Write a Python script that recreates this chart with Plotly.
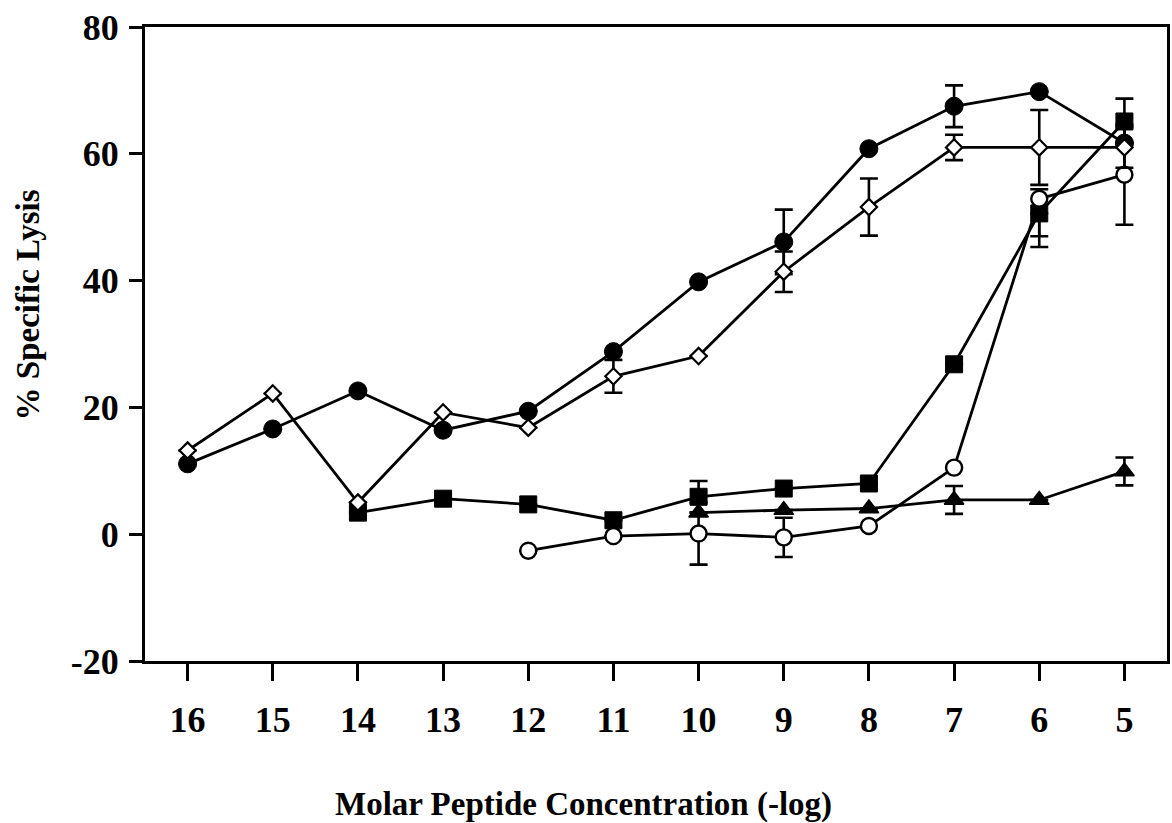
import plotly.graph_objects as go

# -log molar peptide concentration for each series
x_filled_circle = [16, 15, 14, 13, 12, 11, 10, 9, 8, 7, 6, 5]
y_filled_circle = [11.1, 16.6, 22.6, 16.4, 19.4, 28.8, 39.8, 46.1, 60.8, 67.5, 69.8, 61.7]
e_filled_circle = [0, 0, 0, 0, 0, 0, 0, 5.1, 0, 3.3, 0, 0]

x_open_diamond = [16, 15, 14, 13, 12, 11, 10, 9, 8, 7, 6, 5]
y_open_diamond = [13.2, 22.2, 5.0, 19.2, 16.8, 24.9, 28.1, 41.4, 51.6, 61.0, 61.0, 61.0]
e_open_diamond = [0, 0, 0, 0, 0, 2.6, 0, 3.2, 4.5, 2.0, 5.9, 3.2]

x_filled_square = [14, 13, 12, 11, 10, 9, 8, 7, 6, 5]
y_filled_square = [3.4, 5.6, 4.7, 2.2, 5.9, 7.2, 8.0, 26.8, 50.6, 65.1]
e_sq_plus = [0, 0, 0, 0, 2.5, 0, 0, 0, 0, 3.6]
e_sq_minus = [0, 0, 0, 0, 2.5, 0, 0, 0, 5.3, 3.6]

x_open_circle = [12, 11, 10, 9, 8, 7, 6, 5]
y_open_circle = [-2.6, -0.3, 0.1, -0.5, 1.3, 10.5, 52.9, 56.7]
e_oc_plus = [0, 0, 4.9, 3.1, 0, 0, 1.5, 7.9]
e_oc_minus = [0, 0, 4.9, 3.1, 0, 0, 5.9, 7.9]

x_triangle = [10, 9, 8, 7, 6, 5]
y_triangle = [3.4, 3.8, 4.05, 5.4, 5.4, 9.9]
e_triangle = [0, 0, 0, 2.2, 0, 2.2]

x_ticks = [16, 15, 14, 13, 12, 11, 10, 9, 8, 7, 6, 5]
y_ticks = [-20, 0, 20, 40, 60, 80]

FONT = "Liberation Serif"
LINE = dict(color="black", width=2.8)


def err(plus, minus=None):
    d = dict(type="data", array=plus, visible=True, color="black",
             thickness=2.6, width=9)
    if minus is not None:
        d["symmetric"] = False
        d["arrayminus"] = minus
    return d


fig = go.Figure()

fig.add_trace(go.Scatter(
    x=x_filled_square, y=y_filled_square, mode="lines+markers", line=LINE,
    error_y=err(e_sq_plus, e_sq_minus),
    marker=dict(symbol="square", size=17, color="black",
                line=dict(color="black", width=1))))

fig.add_trace(go.Scatter(
    x=x_triangle, y=y_triangle, mode="lines+markers", line=LINE,
    error_y=err(e_triangle),
    marker=dict(symbol="triangle-up", size=17, color="black",
                line=dict(color="black", width=1.5))))

fig.add_trace(go.Scatter(
    x=x_filled_circle, y=y_filled_circle, mode="lines+markers", line=LINE,
    error_y=err(e_filled_circle),
    marker=dict(symbol="circle", size=18, color="black",
                line=dict(color="black", width=1))))

fig.add_trace(go.Scatter(
    x=x_open_circle, y=y_open_circle, mode="lines+markers", line=LINE,
    error_y=err(e_oc_plus, e_oc_minus),
    marker=dict(symbol="circle", size=16, color="white",
                line=dict(color="black", width=2.4))))

fig.add_trace(go.Scatter(
    x=x_open_diamond, y=y_open_diamond, mode="lines+markers", line=LINE,
    error_y=err(e_open_diamond),
    marker=dict(symbol="diamond", size=12.5, color="white",
                line=dict(color="black", width=2.2))))

fig.update_layout(
    width=1172, height=823,
    margin=dict(l=145, r=2, t=27, b=162),
    paper_bgcolor="white", plot_bgcolor="white",
    showlegend=False,
    font=dict(family=FONT, color="black"),
)

fig.update_xaxes(
    range=[16.5, 4.5], tickmode="array", tickvals=x_ticks,
    ticktext=[f"<b>{v}</b>" for v in x_ticks],
    ticks="outside", ticklen=17, tickwidth=3, tickcolor="black",
    showline=True, linewidth=3, linecolor="black", mirror=True,
    showgrid=False, zeroline=False,
    tickfont=dict(family=FONT, size=36, color="black"),
    ticklabelstandoff=8,
)
fig.update_yaxes(
    range=[-20, 80], tickmode="array", tickvals=y_ticks,
    ticktext=[f"<b>{v}</b>" for v in y_ticks],
    ticks="outside", ticklen=13, tickwidth=3, tickcolor="black",
    showline=True, linewidth=3, linecolor="black", mirror=True,
    showgrid=False, zeroline=False,
    tickfont=dict(family=FONT, size=36, color="black"),
    ticklabelstandoff=3,
)

fig.add_annotation(
    text="<b>Molar Peptide Concentration (-log)</b>",
    xref="paper", yref="paper", x=(585 - 145) / 1025, y=-(805 - 661.5) / 635,
    showarrow=False, xanchor="center", yanchor="middle",
    font=dict(family=FONT, size=33, color="black"))

fig.add_annotation(
    text="<b>% Specific Lysis</b>", textangle=-90,
    xref="paper", yref="paper", x=-(145 - 28) / 1025, y=(661.5 - 305) / 635,
    showarrow=False, xanchor="center", yanchor="middle",
    font=dict(family=FONT, size=33, color="black"))

fig.write_html("out.html")
